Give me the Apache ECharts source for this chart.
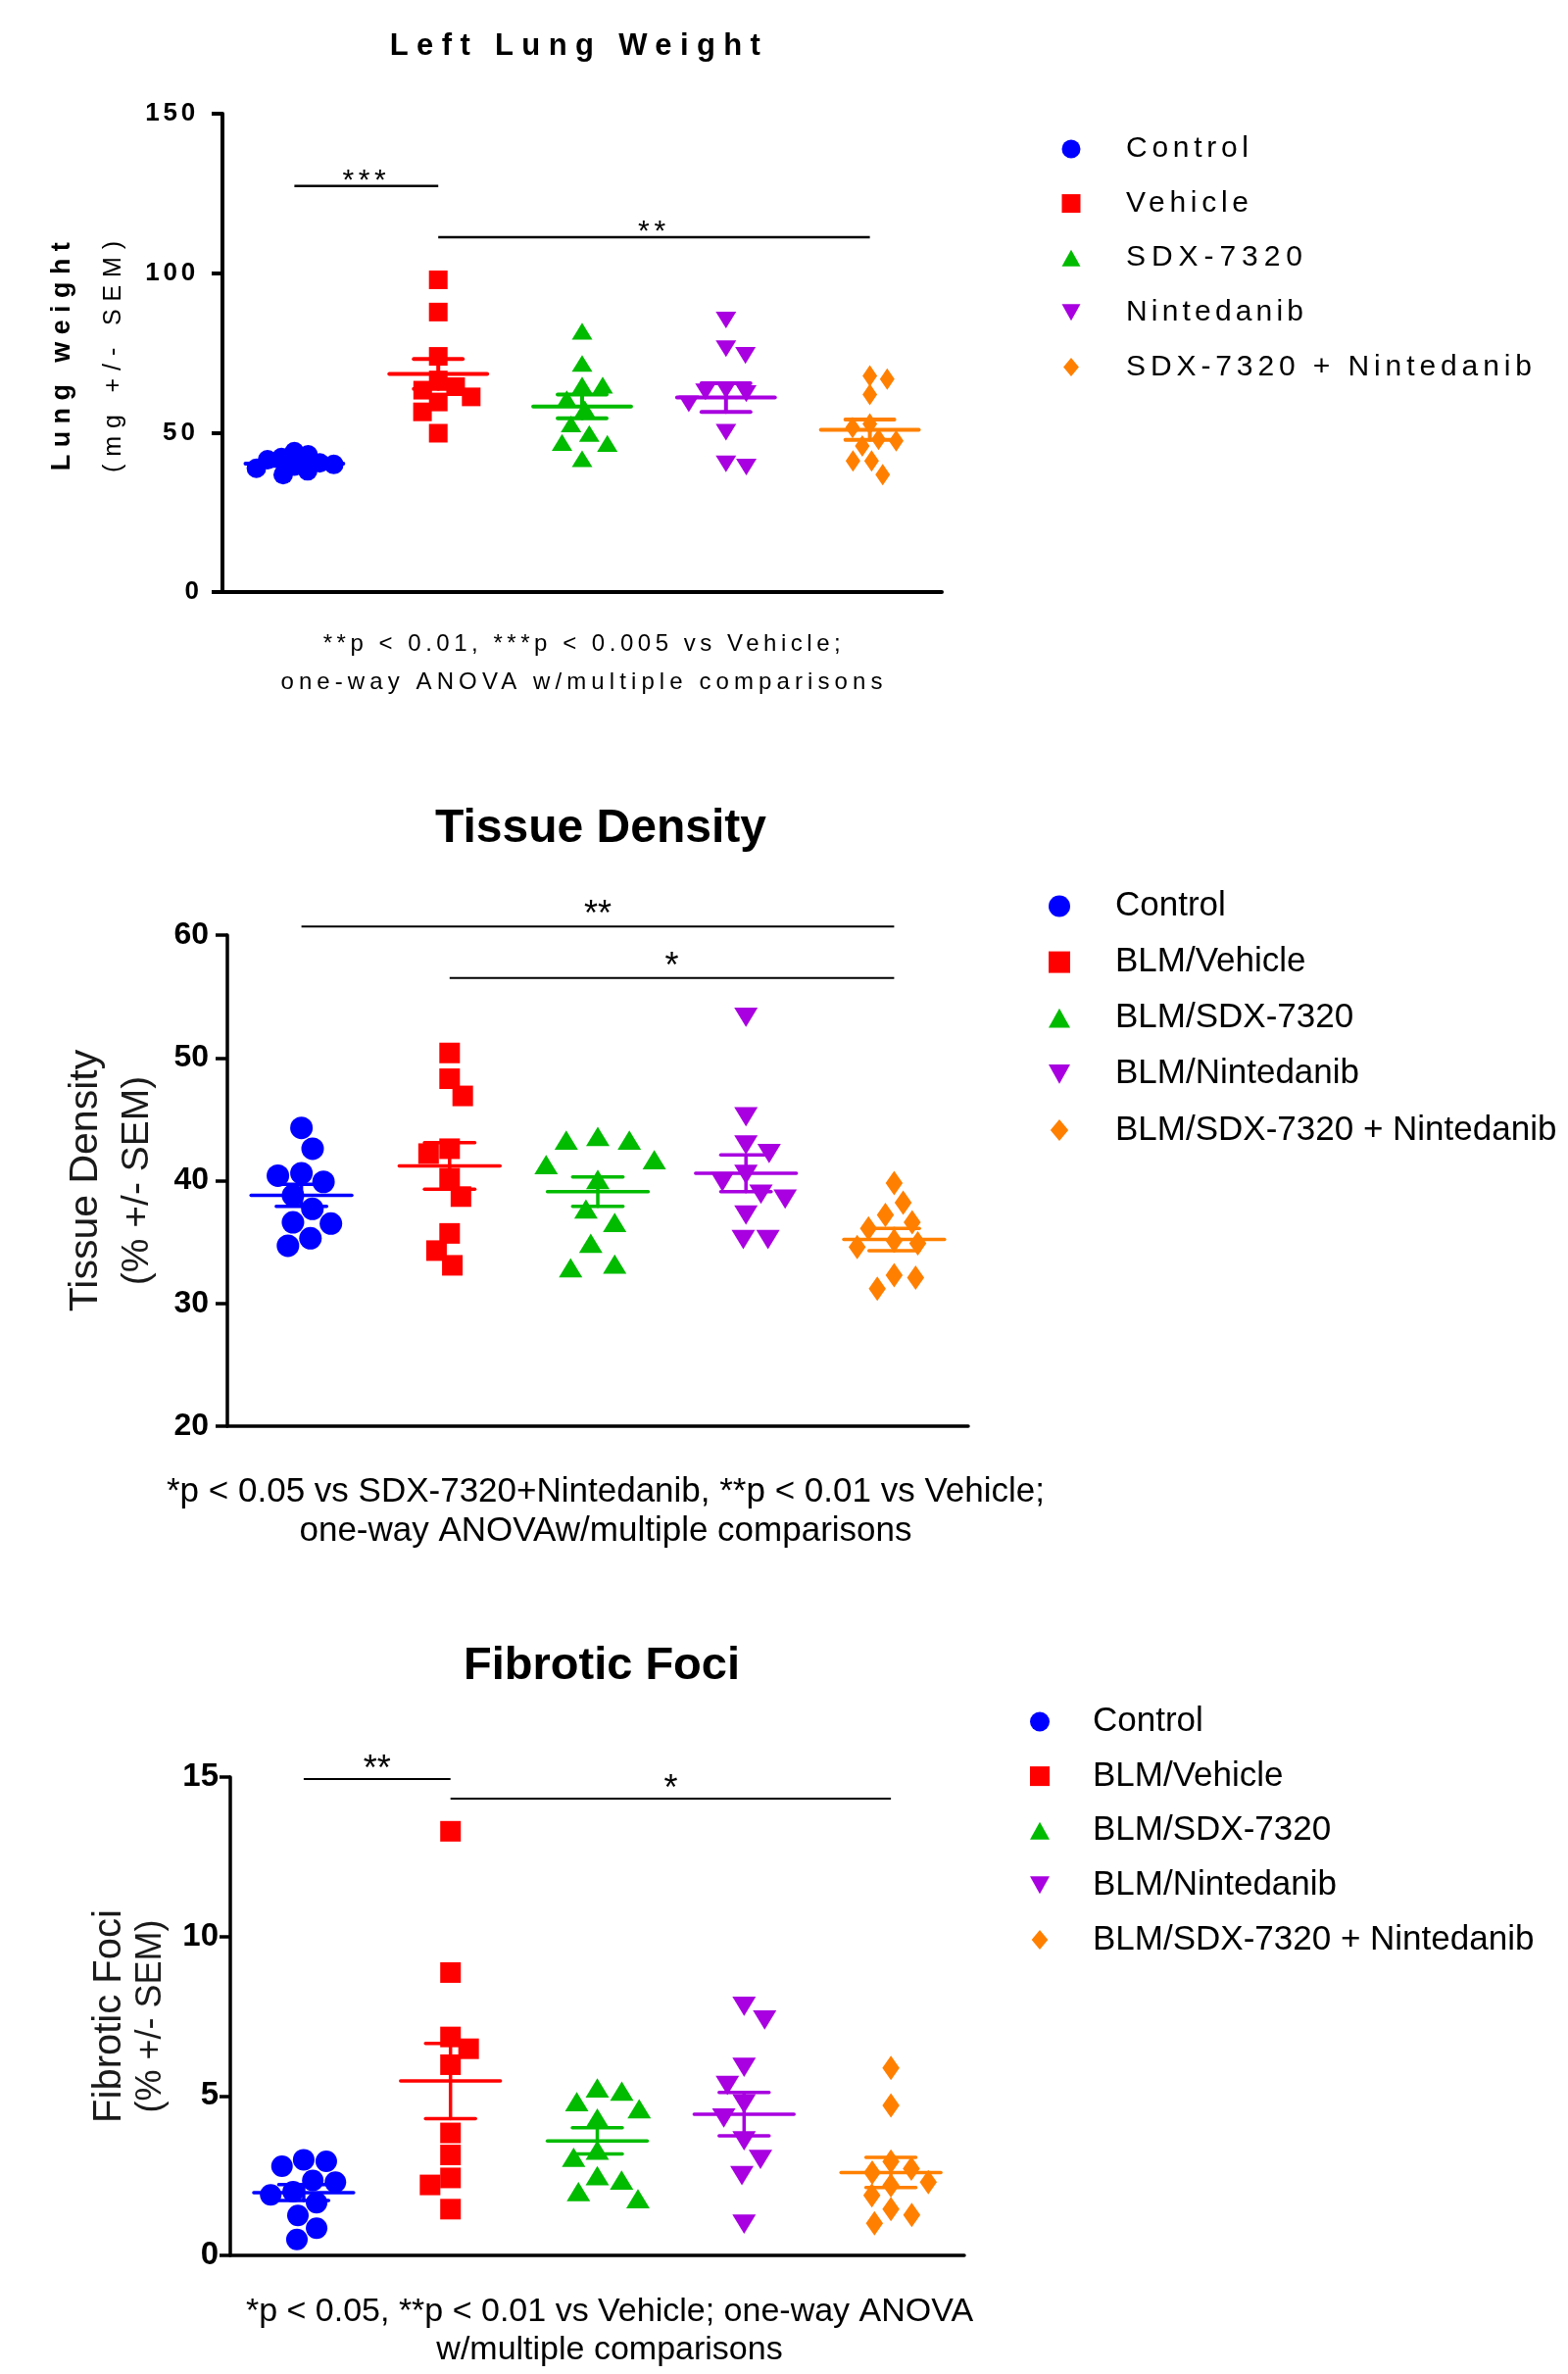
<!DOCTYPE html>
<html><head><meta charset="utf-8">
<script src="https://cdn.jsdelivr.net/npm/echarts@6/dist/echarts.min.js"></script>
<style>
html,body{margin:0;padding:0;background:#fff}
#p1{position:absolute;left:0;top:0;width:1600px;height:780px}
#p2{position:absolute;left:0;top:780px;width:1600px;height:1642px}
</style>
</head><body><div id="p1"></div><div id="p2"></div>
<script>
// ---------------- DATA ----------------
const llwCategories = ['Control', 'Vehicle', 'SDX-7320', 'Nintedanib', 'SDX-7320 + Nintedanib'];
const blmCategories = ['Control', 'BLM/Vehicle', 'BLM/SDX-7320', 'BLM/Nintedanib', 'BLM/SDX-7320 + Nintedanib'];

// Left Lung Weight (mg)
const llwControl = [44.0, 43.0, 42.2, 41.5, 40.5, 40.0, 39.5, 38.8, 38.0, 36.8];
const llwVehicle = [97.9, 87.8, 73.9, 66.5, 64.4, 63.3, 61.2, 59.6, 56.5, 49.8];
const llwSdx = [81.8, 71.7, 64.9, 64.9, 60.6, 57.5, 52.7, 49.7, 46.9, 46.6, 41.8];
const llwNint = [85.3, 76.3, 74.2, 63.3, 62.8, 62.2, 59.0, 50.1, 40.2, 39.2];
const llwCombo = [67.8, 66.8, 61.9, 52.7, 51.6, 47.9, 47.4, 45.8, 41.1, 41.1, 36.8];
const llwMean = [40.3, 68.4, 58.2, 61.0, 50.9];
const llwSem = [0.7, 4.7, 3.7, 4.5, 3.2];
const llwTicks = [0, 50, 100, 150];
const llwSigFrom = [0, 1];
const llwSigTo = [1, 4];
const llwSigAt = [127.3, 111.3];
const llwSigText = ['***', '**'];

// Tissue Density (%)
const tdControl = [44.3, 42.6, 40.6, 40.4, 39.9, 38.8, 37.7, 36.6, 36.5, 35.3, 34.7];
const tdVehicle = [50.4, 48.3, 46.9, 42.6, 42.2, 40.2, 38.7, 35.7, 34.3, 33.1];
const tdSdx = [43.6, 43.3, 43.3, 41.7, 41.3, 40.1, 37.7, 36.6, 34.9, 33.2, 32.9];
const tdNint = [53.3, 45.2, 42.9, 42.2, 40.5, 39.9, 38.9, 38.5, 37.2, 35.2, 35.2];
const tdCombo = [39.8, 38.2, 37.2, 36.6, 36.1, 35.1, 34.9, 34.6, 32.3, 32.1, 31.2];
const tdMean = [38.8, 41.2, 39.1, 40.6, 35.2];
const tdSem = [0.9, 1.9, 1.2, 1.5, 0.9];
const tdTicks = [20, 30, 40, 50, 60];
const tdSigFrom = [0, 1];
const tdSigTo = [4, 4];
const tdSigAt = [60.7, 56.5];
const tdSigText = ['**', '*'];

// Fibrotic Foci (%)
const ffControl = [3.0, 2.95, 2.8, 2.35, 2.3, 2.0, 1.9, 1.65, 1.25, 0.85, 0.5];
const ffVehicle = [13.3, 8.87, 6.85, 6.48, 5.98, 3.84, 3.15, 2.43, 2.21, 1.45];
const ffSdx = [5.25, 5.15, 4.82, 4.6, 4.31, 3.3, 3.08, 2.5, 2.36, 2.0, 1.78];
const ffNint = [7.81, 7.38, 5.9, 5.33, 4.75, 4.31, 3.59, 3.01, 2.5, 0.98];
const ffCombo = [5.88, 4.7, 2.94, 2.72, 2.6, 2.3, 2.2, 1.88, 1.45, 1.27, 1.01];
const ffMean = [1.97, 5.47, 3.59, 4.43, 2.6];
const ffSem = [0.25, 1.18, 0.41, 0.68, 0.47];
const ffTicks = [0, 5, 10, 15];
const ffSigFrom = [0, 1];
const ffSigTo = [1, 4];
const ffSigAt = [14.94, 14.32];
const ffSigText = ['**', '*'];

// ---------------- STYLE ----------------
const FONT = 'Liberation Sans, Arial, sans-serif';
const COLORS = ['#0000ff', '#ff0000', '#00bb00', '#a800e0', '#ff8000'];
const SYMBOLS = [
  'circle',
  'path://M0,0L20,0L20,20L0,20Z',
  'path://M10,0L20,18L0,18Z',
  'path://M0,0L20,0L10,18Z',
  'path://M10,0L20,12L10,24L0,12Z'
];

// letter-spaced text of the top panel (target rendered widths)
const LS1 = {
  'Left Lung Weight': 378, 'Control': 125, 'Vehicle': 125, 'SDX-7320': 180, 'Nintedanib': 181,
  'SDX-7320 + Nintedanib': 414, '150': 51, '100': 51, '50': 33, 'Lung weight': 233, '(mg +/- SEM)': 236,
  '***': 44, '**': 28, '**p < 0.01, ***p < 0.005 vs Vehicle;': 528, 'one-way ANOVA w/multiple comparisons': 614
};
(function () {
  const P = CanvasRenderingContext2D.prototype;
  const of = P.fillText, os = P.strokeText;
  function adj(ctx, t) {
    if (!('letterSpacing' in ctx)) return;
    ctx.letterSpacing = '0px';
    const c = ctx.canvas;
    if (!c || !c.closest || !c.closest('#p1')) return;
    const target = LS1[t];
    if (!target || t.length < 2) return;
    const w = ctx.measureText(t).width;
    if (target > w) ctx.letterSpacing = ((target - w) / (t.length - 1)) + 'px';
  }
  P.fillText = function (t, x, y, m) { adj(this, t); return m === undefined ? of.call(this, t, x, y) : of.call(this, t, x, y, m); };
  P.strokeText = function (t, x, y, m) { adj(this, t); return m === undefined ? os.call(this, t, x, y) : os.call(this, t, x, y, m); };
})();

// beeswarm layout: horizontal pixel offsets so symbols do not overlap
function swarm(values, pxPerUnit, d) {
  const order = values.map((v, i) => i).sort((a, b) => values[b] - values[a]);
  const placed = [];
  const off = new Array(values.length).fill(0);
  order.forEach(i => {
    const y = values[i] * pxPerUnit;
    const blocks = [];
    placed.forEach(p => {
      const dy = Math.abs(p.y - y);
      if (dy < d) { const w = Math.sqrt(d * d - dy * dy); blocks.push([p.x - w, p.x + w]); }
    });
    const cands = [0];
    blocks.forEach(b => cands.push(b[0], b[1]));
    const sumX = placed.reduce((s, p) => s + p.x, 0);
    cands.sort((a, b) => (Math.abs(a) - Math.abs(b)) || (sumX > 0 ? a - b : b - a));
    let x = 0;
    for (const c of cands) {
      if (blocks.every(b => c <= b[0] + 1e-6 || c >= b[1] - 1e-6)) { x = c; break; }
    }
    placed.push({ x, y });
    off[i] = x;
  });
  return off;
}

function buildPanel(cfg) {
  const gi = cfg.index;
  const grid = { left: cfg.grid[0], top: cfg.grid[1], width: cfg.grid[2], height: cfg.grid[3], outerBoundsMode: 'none', containLabel: false };
  const ticks = cfg.ticks;
  const min = ticks[0], max = ticks[ticks.length - 1], interval = ticks[1] - ticks[0];
  const pxPerUnit = cfg.grid[3] / (max - min);
  const xAxis = {
    type: 'category', gridIndex: gi, data: cfg.names, boundaryGap: true,
    axisLine: { show: true, onZero: false, lineStyle: { color: '#000', width: cfg.axisWidth } },
    axisTick: { show: false }, axisLabel: { show: false }, splitLine: { show: false }
  };
  const yAxis = {
    type: 'value', gridIndex: gi, min, max, interval,
    axisLine: { show: true, lineStyle: { color: '#000', width: cfg.axisWidth } },
    axisTick: { show: true, length: cfg.tickLen, lineStyle: { color: '#000', width: cfg.axisWidth } },
    axisLabel: { margin: cfg.labelMargin, fontSize: cfg.tickFont, fontWeight: 'bold', color: '#000', fontFamily: FONT },
    splitLine: { show: false },
    name: '{a|' + cfg.yName[0] + '}\n{b|' + cfg.yName[1] + '}',
    nameLocation: 'middle', nameGap: cfg.nameGap, nameMoveOverlap: false,
    nameTextStyle: {
      rich: {
        a: { fontSize: cfg.nameFont[0], fontWeight: cfg.nameBold ? 'bold' : 'normal', fontFamily: FONT, color: cfg.nameColor, lineHeight: cfg.nameLine, align: 'center' },
        b: { fontSize: cfg.nameFont[1], fontWeight: 'normal', fontFamily: FONT, color: cfg.nameColor, lineHeight: cfg.nameLine, align: 'center' }
      }
    }
  };
  const series = [];
  cfg.groups.forEach((vals, g) => {
    const sz = cfg.sizes[g];
    const off = swarm(vals, pxPerUnit, sz[0] * cfg.spread[g]);
    series.push({
      type: 'scatter', name: cfg.names[g], xAxisIndex: gi, yAxisIndex: gi,
      symbol: SYMBOLS[g], symbolSize: sz, symbolKeepAspect: true,
      itemStyle: { color: COLORS[g], opacity: 1 }, z: 3, silent: true,
      data: vals.map((v, i) => ({ value: [g, v], symbolOffset: [off[i], 0] }))
    });
  });
  // mean +/- SEM
  series.push({
    type: 'custom', name: 'mean-sem-' + gi, xAxisIndex: gi, yAxisIndex: gi, z: 5, silent: true,
    encode: { x: 0, y: 1 },
    data: cfg.mean.map((m, i) => [i, m, cfg.sem[i]]),
    renderItem: function (params, api) {
      const cat = api.value(0), m = api.value(1), s = api.value(2);
      const c = api.coord([cat, m]), hi = api.coord([cat, m + s]), lo = api.coord([cat, m - s]);
      const band = api.size([1, 0])[0];
      const mw = band * cfg.meanW / 2, cw = band * cfg.capW / 2;
      const st = { stroke: COLORS[params.dataIndex], lineWidth: cfg.meanLW, lineCap: 'round' };
      return {
        type: 'group', children: [
          { type: 'line', shape: { x1: c[0] - mw, y1: c[1], x2: c[0] + mw, y2: c[1] }, style: st },
          { type: 'line', shape: { x1: c[0], y1: hi[1], x2: c[0], y2: lo[1] }, style: st },
          { type: 'line', shape: { x1: c[0] - cw, y1: hi[1], x2: c[0] + cw, y2: hi[1] }, style: st },
          { type: 'line', shape: { x1: c[0] - cw, y1: lo[1], x2: c[0] + cw, y2: lo[1] }, style: st }
        ]
      };
    }
  });
  // significance brackets
  series.push({
    type: 'custom', name: 'sig-' + gi, xAxisIndex: gi, yAxisIndex: gi, z: 4, silent: true, clip: false,
    encode: { x: [0, 1], y: 2 },
    data: cfg.sigFrom.map((f, i) => [f, cfg.sigTo[i], cfg.sigAt[i]]),
    renderItem: function (params, api) {
      const a = api.coord([api.value(0), api.value(2)]);
      const b = api.coord([api.value(1), api.value(2)]);
      return {
        type: 'group', children: [
          { type: 'line', shape: { x1: a[0], y1: a[1], x2: b[0], y2: b[1] }, style: { stroke: '#000', lineWidth: cfg.sigLW } },
          { type: 'text', x: (a[0] + b[0]) / 2, y: a[1] - cfg.sigTextGap,
            style: { text: cfg.sigText[params.dataIndex], fill: '#000', fontSize: cfg.sigFont, fontFamily: FONT, align: 'center', verticalAlign: 'middle' } }
        ]
      };
    }
  });
  // legend: [markerCenterX, firstItemTop, iconSize, itemGap, textStartX]
  const L = cfg.legend;
  const legend = {
    data: cfg.names.slice(), orient: 'vertical', left: L[0] - L[2] / 2, top: L[1],
    itemWidth: L[2], itemHeight: L[2], itemGap: L[3], selectedMode: false, padding: 0,
    textStyle: { fontSize: cfg.legendFont, fontFamily: FONT, color: '#000',
      padding: [0, 0, 0, L[4] - (L[0] + L[2] / 2 + 5)] }
  };
  return { grid, xAxis, yAxis, series, legend };
}

function assemble(panels, titles) {
  const opt = { animation: false, backgroundColor: '#fff', title: titles, grid: [], xAxis: [], yAxis: [], series: [], legend: [] };
  panels.forEach(p => {
    opt.grid.push(p.grid); opt.xAxis.push(p.xAxis); opt.yAxis.push(p.yAxis);
    opt.series.push(...p.series); opt.legend.push(p.legend);
  });
  return opt;
}

// ---------- Panel 1: Left Lung Weight ----------
const p1 = buildPanel({
  index: 0, grid: [227, 116, 734, 488], ticks: llwTicks, names: llwCategories,
  groups: [llwControl, llwVehicle, llwSdx, llwNint, llwCombo],
  mean: llwMean, sem: llwSem, sigFrom: llwSigFrom, sigTo: llwSigTo, sigAt: llwSigAt, sigText: llwSigText,
  sizes: [[20, 20], [19, 19], [21, 19], [21, 19], [18, 22]], spread: [0.72, 1.0, 1.0, 1.0, 1.0],
  axisWidth: 4, tickLen: 11, labelMargin: 24, tickFont: 26,
  yName: ['Lung weight', '(mg +/- SEM)'], nameFont: [27, 25], nameBold: true, nameColor: '#000', nameLine: 53, nameGap: 84,
  meanW: 0.68, capW: 0.34, meanLW: 4, sigLW: 2.5, sigFont: 30, sigTextGap: 5,
  legend: [1093, 137, 19, 25.6, 1149], legendFont: 30
});
const chart1 = echarts.init(document.getElementById('p1'), null, { renderer: 'canvas' });
chart1.setOption(assemble([p1], [
  { text: 'Left Lung Weight', left: 591, top: 31, textAlign: 'center', padding: 0,
    textStyle: { fontFamily: FONT, fontWeight: 'bold', fontSize: 31, color: '#000', lineHeight: 32 } },
  { text: '**p < 0.01, ***p < 0.005 vs Vehicle;\none-way ANOVA w/multiple comparisons', left: 596, top: 638, textAlign: 'center', padding: 0,
    textStyle: { fontFamily: FONT, fontWeight: 'normal', fontSize: 24, color: '#000', lineHeight: 39 } }
]));

// ---------- Panels 2 & 3 ----------
const p2 = buildPanel({
  index: 0, grid: [232, 174, 756, 501], ticks: tdTicks, names: blmCategories,
  groups: [tdControl, tdVehicle, tdSdx, tdNint, tdCombo],
  mean: tdMean, sem: tdSem, sigFrom: tdSigFrom, sigTo: tdSigTo, sigAt: tdSigAt, sigText: tdSigText,
  sizes: [[23, 23], [21, 21], [24, 22], [24, 22], [21, 25]], spread: [1.05, 1.05, 1.35, 1.05, 1.05],
  axisWidth: 3.5, tickLen: 12, labelMargin: 19, tickFont: 32,
  yName: ['Tissue Density', '(% +/- SEM)'], nameFont: [41, 39], nameBold: false, nameColor: '#1a1a1a', nameLine: 53, nameGap: 65,
  meanW: 0.68, capW: 0.34, meanLW: 3.5, sigLW: 2, sigFont: 36, sigTextGap: 11,
  legend: [1081, 127, 22, 22.1, 1138], legendFont: 35
});
const p3 = buildPanel({
  index: 1, grid: [235, 1033, 749, 488], ticks: ffTicks, names: blmCategories,
  groups: [ffControl, ffVehicle, ffSdx, ffNint, ffCombo],
  mean: ffMean, sem: ffSem, sigFrom: ffSigFrom, sigTo: ffSigTo, sigAt: ffSigAt, sigText: ffSigText,
  sizes: [[22, 22], [21, 21], [24, 22], [24, 22], [21, 25]], spread: [1.05, 1.05, 1.05, 1.05, 1.05],
  axisWidth: 3.5, tickLen: 11, labelMargin: 12, tickFont: 33,
  yName: ['Fibrotic Foci', '(% +/- SEM)'], nameFont: [40, 36], nameBold: false, nameColor: '#1a1a1a', nameLine: 43, nameGap: 59,
  meanW: 0.68, capW: 0.34, meanLW: 3.5, sigLW: 2, sigFont: 36, sigTextGap: 9,
  legend: [1061, 959, 20, 20.6, 1115], legendFont: 35
});
const chart2 = echarts.init(document.getElementById('p2'), null, { renderer: 'canvas' });
chart2.setOption(assemble([p2, p3], [
  { text: 'Tissue Density', left: 613, top: 41, textAlign: 'center', padding: 0,
    textStyle: { fontFamily: FONT, fontWeight: 'bold', fontSize: 48, color: '#000', lineHeight: 50 } },
  { text: '*p < 0.05 vs SDX-7320+Nintedanib, **p < 0.01 vs Vehicle;\none-way ANOVAw/multiple comparisons', left: 618, top: 722, textAlign: 'center', padding: 0,
    textStyle: { fontFamily: FONT, fontWeight: 'normal', fontSize: 35, color: '#000', lineHeight: 40 } },
  { text: 'Fibrotic Foci', left: 614, top: 896, textAlign: 'center', padding: 0,
    textStyle: { fontFamily: FONT, fontWeight: 'bold', fontSize: 47, color: '#000', lineHeight: 48 } },
  { text: '*p < 0.05, **p < 0.01 vs Vehicle; one-way ANOVA\nw/multiple comparisons', left: 622, top: 1559, textAlign: 'center', padding: 0,
    textStyle: { fontFamily: FONT, fontWeight: 'normal', fontSize: 34, color: '#000', lineHeight: 39 } }
]));
</script>
</body></html>
